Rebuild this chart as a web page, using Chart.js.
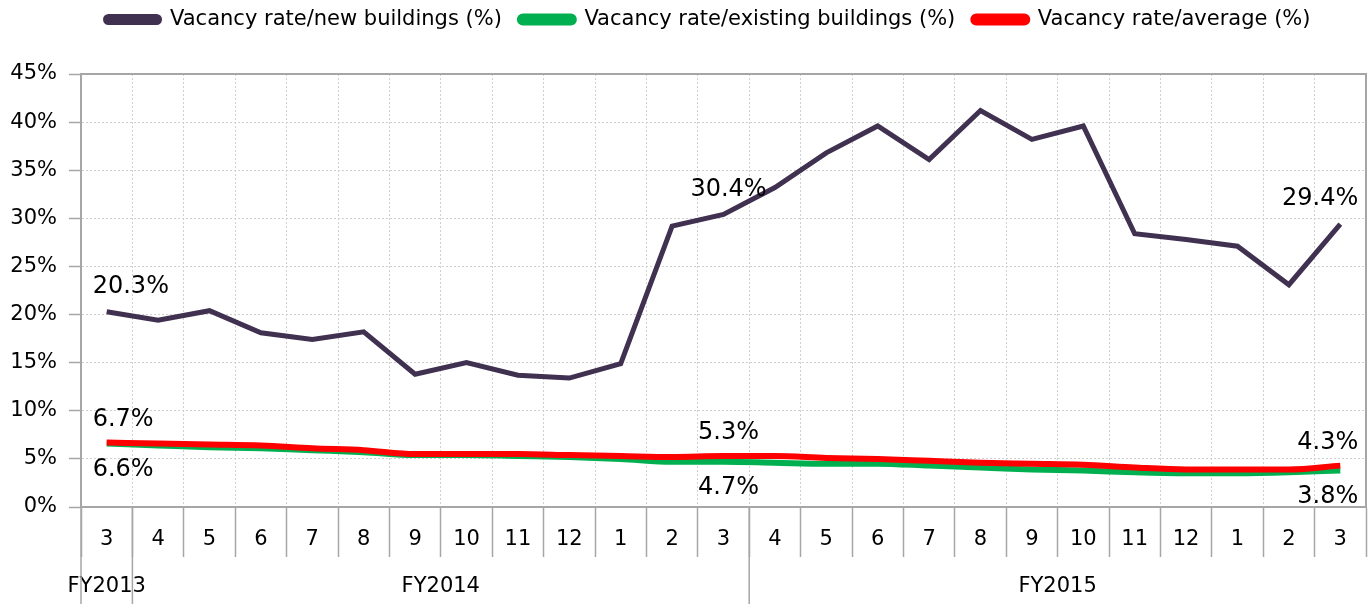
<!DOCTYPE html>
<html>
<head>
<meta charset="utf-8">
<script src="https://cdn.jsdelivr.net/npm/chart.js@4/dist/chart.umd.min.js"></script>
<style>
  html, body { margin: 0; padding: 0; background: #fff; }
  #wrap { width: 1370px; height: 604px; }
</style>
</head>
<body>
<div id="wrap"><canvas id="vacancyChart" width="1370" height="604"></canvas></div>
<script>
// Months along the x axis (FY2013 March .. FY2015 March)
const months = ['3', '4', '5', '6', '7', '8', '9', '10', '11', '12', '1', '2', '3',
                '4', '5', '6', '7', '8', '9', '10', '11', '12', '1', '2', '3'];

// Fiscal year groups under the months and how many months each one covers
const fiscalYears = ['FY2013', 'FY2014', 'FY2015'];
const fiscalSpans = [1, 12, 12];

// Series values (%)
const newBuildings = [20.3, 19.4, 20.4, 18.1, 17.4, 18.2, 13.8, 15.0, 13.7, 13.4, 14.9, 29.2, 30.4,
                      33.2, 36.8, 39.6, 36.1, 41.2, 38.2, 39.6, 28.4, 27.8, 27.1, 23.1, 29.4];
const existingBuildings = [6.6, 6.4, 6.2, 6.1, 5.9, 5.7, 5.4, 5.4, 5.3, 5.2, 5.0, 4.7, 4.7,
                           4.6, 4.5, 4.5, 4.3, 4.1, 3.9, 3.8, 3.6, 3.5, 3.5, 3.6, 3.8];
const averageRate = [6.7, 6.6, 6.5, 6.4, 6.1, 5.9, 5.5, 5.5, 5.5, 5.4, 5.3, 5.2, 5.3,
                     5.3, 5.1, 5.0, 4.8, 4.6, 4.5, 4.4, 4.1, 3.9, 3.9, 3.9, 4.3];

// Points that carry a value label
const labelledPoints = [0, 12, 24];

const FONT = "'DejaVu Sans', Verdana, sans-serif";

// Give the legend a fixed height so the plot starts where it should,
// and nudge it a bit to the right like the original
const legendSpacer = {
    id: 'legendSpacer',
    beforeInit(chart) {
        const origFit = chart.legend.fit;
        chart.legend.fit = function () {
            origFit.bind(chart.legend)();
            this.height = 83;
        };
    },
    afterLayout(chart) {
        chart.legend.left += 25;
        chart.legend.right += 25;
    }
};

// Frame round the plot area + the fiscal year row under the months
const frameAndYears = {
    id: 'frameAndYears',
    afterDraw(chart) {
        const ctx = chart.ctx;
        const area = chart.chartArea;
        const x = chart.scales.x;
        const half = (x.getPixelForValue(1) - x.getPixelForValue(0)) / 2;
        ctx.save();
        ctx.strokeStyle = '#a6a6a6';
        ctx.lineWidth = 2;
        ctx.beginPath();
        ctx.moveTo(area.left, area.top);
        ctx.lineTo(area.right, area.top);
        ctx.lineTo(area.right, area.bottom);
        ctx.stroke();

        // separators between fiscal years
        ctx.lineWidth = 1.5;
        let idx = 0;
        ctx.beginPath();
        ctx.moveTo(area.left, area.bottom);
        ctx.lineTo(area.left, chart.height);
        fiscalSpans.forEach((span, i) => {
            const start = x.getPixelForValue(idx) - half;
            idx += span;
            const end = x.getPixelForValue(idx - 1) + half;
            if (i < fiscalSpans.length - 1) {
                ctx.moveTo(end, area.bottom);
                ctx.lineTo(end, chart.height);
            }
            ctx.fillStyle = '#000';
            ctx.font = '21px ' + FONT;
            ctx.textAlign = 'center';
            ctx.textBaseline = 'middle';
            ctx.fillText(fiscalYears[i], (start + end) / 2, 587);
        });
        ctx.stroke();
        ctx.restore();
    }
};

// Value labels on the first, middle and last point
const valueLabels = {
    id: 'valueLabels',
    afterDatasetsDraw(chart) {
        const ctx = chart.ctx;
        ctx.save();
        ctx.font = '24px ' + FONT;
        ctx.fillStyle = '#000';
        ctx.textBaseline = 'middle';
        chart.data.datasets.forEach((ds, di) => {
            const meta = chart.getDatasetMeta(di);
            labelledPoints.forEach((i, n) => {
                const pt = meta.data[i];
                const text = ds.data[i].toFixed(1) + '%';
                const y = pt.y + ds.labelShift;
                if (n === 0) {
                    ctx.textAlign = 'left';
                    ctx.fillText(text, pt.x - 14, y);
                } else if (n === labelledPoints.length - 1) {
                    ctx.textAlign = 'right';
                    ctx.fillText(text, pt.x + 18, y);
                } else {
                    ctx.textAlign = 'center';
                    ctx.fillText(text, pt.x + 5, y);
                }
            });
        });
        ctx.restore();
    }
};

const ctx = document.getElementById('vacancyChart').getContext('2d');
const vacancyChart = new Chart(ctx, {
    type: 'line',
    data: {
        labels: months,
        datasets: [
            {
                label: 'Vacancy rate/new buildings (%)',
                data: newBuildings,
                borderColor: '#403151',
                backgroundColor: '#403151',
                borderWidth: 5,
                pointRadius: 0,
                tension: 0,
                order: 2,
                labelShift: -25
            },
            {
                label: 'Vacancy rate/existing buildings (%)',
                data: existingBuildings,
                borderColor: '#00b050',
                backgroundColor: '#00b050',
                borderWidth: 6,
                pointRadius: 0,
                cubicInterpolationMode: 'monotone',
                order: 1,
                labelShift: 26
            },
            {
                label: 'Vacancy rate/average (%)',
                data: averageRate,
                borderColor: '#ff0000',
                backgroundColor: '#ff0000',
                borderWidth: 6,
                pointRadius: 0,
                cubicInterpolationMode: 'monotone',
                order: 0,
                labelShift: -23
            }
        ]
    },
    options: {
        responsive: false,
        animation: false,
        layout: { padding: { right: 4, left: 0, top: -9, bottom: 0 } },
        plugins: {
            tooltip: { enabled: false },
            legend: {
                position: 'top',
                labels: {
                    color: '#000',
                    font: { family: FONT, size: 21 },
                    boxWidth: 54,
                    boxHeight: 6,
                    padding: 18,
                    useBorderRadius: true,
                    borderRadius: 3,
                    sort: (a, b) => a.datasetIndex - b.datasetIndex
                }
            }
        },
        scales: {
            x: {
                offset: true,
                grid: {
                    offset: true,
                    color: '#d0d0d0',
                    tickLength: 50,
                    tickColor: '#a6a6a6',
                    tickWidth: 1.5,
                    tickBorderDash: []
                },
                border: { color: '#a6a6a6', width: 2, dash: [2, 2] },
                ticks: {
                    color: '#000',
                    font: { family: FONT, size: 21 },
                    padding: -30,
                    maxRotation: 0,
                    autoSkip: false
                },
                afterFit(scale) { scale.height = 97; }
            },
            y: {
                min: 0,
                max: 45,
                ticks: {
                    stepSize: 5,
                    color: '#000',
                    font: { family: FONT, size: 21 },
                    padding: 12,
                    callback: (v) => v + '%'
                },
                grid: {
                    color: '#d0d0d0',
                    tickLength: 12,
                    tickColor: '#a6a6a6',
                    tickWidth: 1.5,
                    tickBorderDash: []
                },
                border: { color: '#a6a6a6', width: 2, dash: [2, 2] },
                afterFit(scale) { scale.width = 81; }
            }
        }
    },
    plugins: [legendSpacer, frameAndYears, valueLabels]
});
</script>
</body>
</html>
